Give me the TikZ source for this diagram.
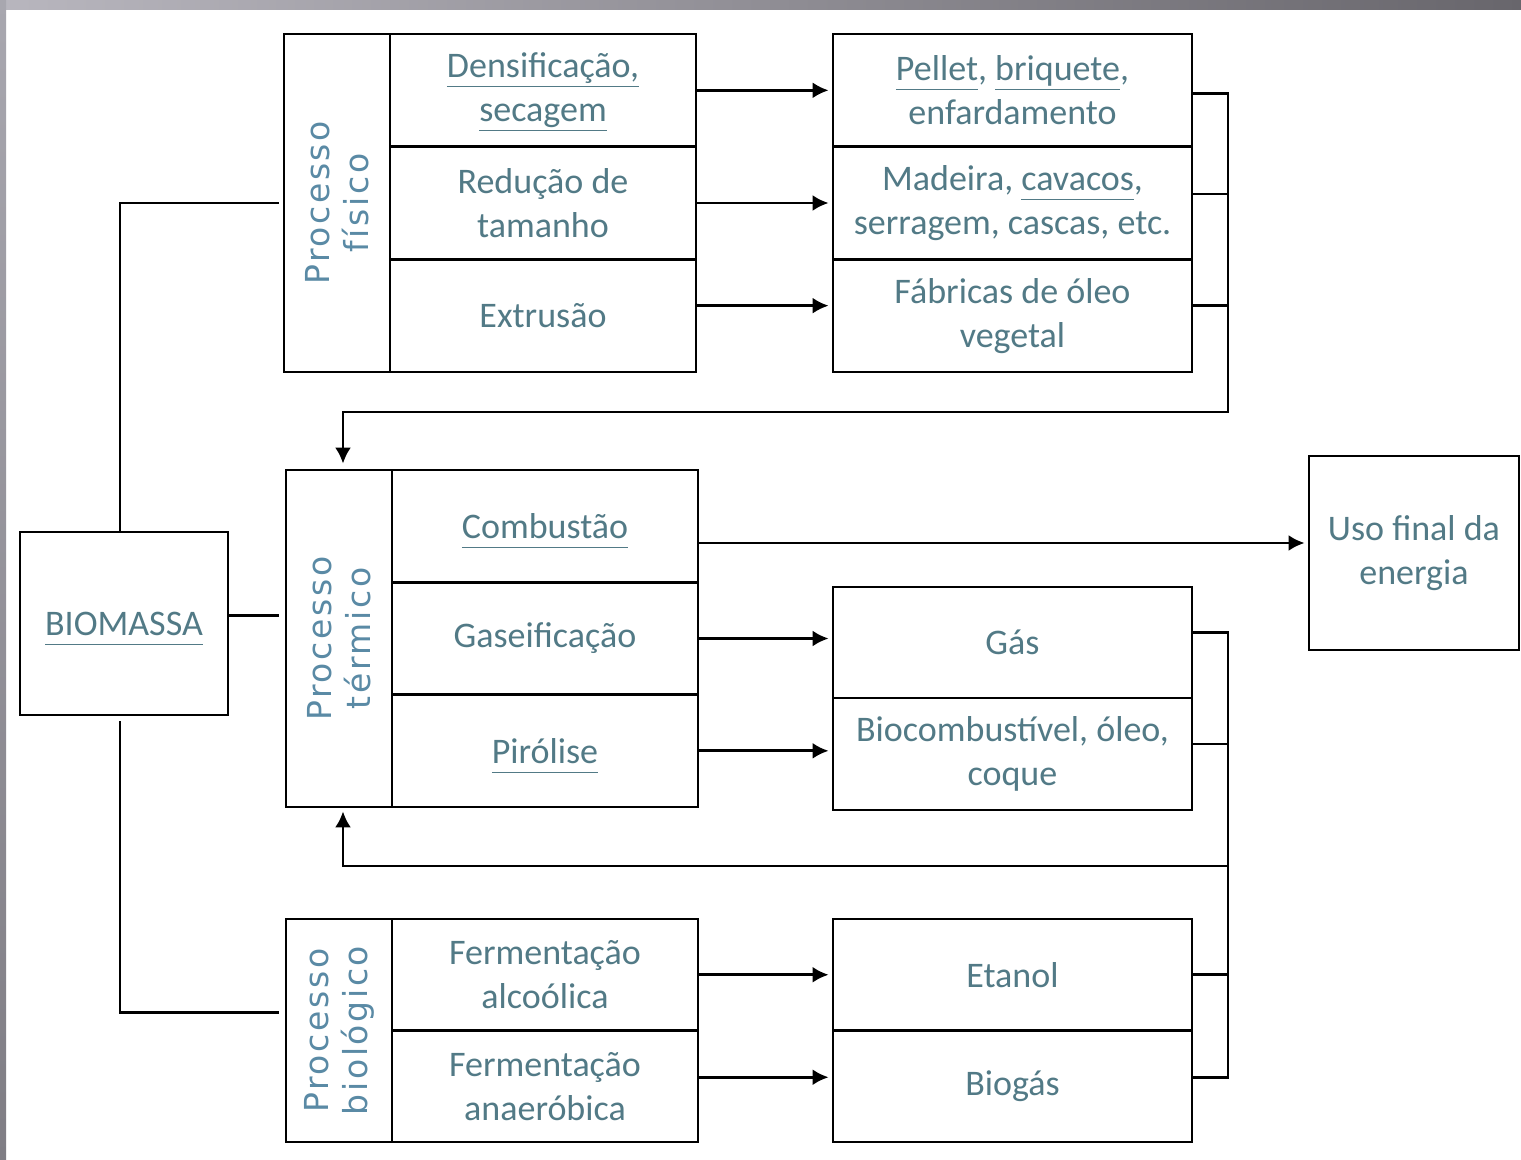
\documentclass[tikz,border=0pt]{standalone}
\usepackage{fontspec}
\setmainfont{Carlito}
\newfontfamily\sidefont[LetterSpace=8]{DejaVu Sans}
\usetikzlibrary{arrows.meta}
\definecolor{txtcol}{RGB}{82,122,134}
\definecolor{sidecol}{RGB}{90,138,165}
\newcommand{\lnk}[1]{\smash{\underline{\smash{#1}\vphantom{g}}}\vphantom{#1}}

\begin{document}
\begin{tikzpicture}[x=0.5pt,y=-0.5pt,
	cellbox/.style={draw,line width=1.4pt,inner sep=0pt,align=center,text=txtcol,font=\fontsize{18}{22}\selectfont},
	rowbox/.style={cellbox,minimum width=153pt},
	prodbox/.style={cellbox,minimum width=179.5pt},
	sidebox/.style={draw,line width=1.4pt,minimum width=53pt},
	sidelbl/.style={rotate=90,align=center,inner sep=0pt,text=sidecol,font=\sidefont\fontsize{16.5}{19.5}\selectfont},
	wire/.style={line width=1.4pt},
	arr/.style={wire,-{Latex[length=8pt,width=8pt]},shorten >=1.5pt}]
			\useasboundingbox (0,0) rectangle (1521,1160);
			\fill[white] (0,0) rectangle (1521,1160);
			\shade[left color={rgb,255:red,184;green,182;blue,190},right color={rgb,255:red,104;green,102;blue,108}] (0,0) rectangle (1521,10);
			\shade[top color={rgb,255:red,168;green,167;blue,175},bottom color={rgb,255:red,127;green,125;blue,132}] (0,0) rectangle (6,1160);

			\node[cellbox,minimum width=104pt,minimum height=91.5pt] (bio) at (124,623.5) {\lnk{BIOMASSA}};
			\node[cellbox,minimum width=105pt,minimum height=97pt] (uso) at (1414,553) {Uso final da\\energia};

			% processo fisico
			\node[sidebox,minimum height=169pt] (fis) at (337,203) {};
			\node[sidelbl] (fislbl) at (fis) {Processo\\físico};
			\node[rowbox,minimum height=56.33pt] (fis1) at (543,90.33) {\lnk{Densificação,}\\\lnk{secagem}};
			\node[rowbox,minimum height=56.33pt] (fis2) at (543,203) {Redução de\\tamanho};
			\node[rowbox,minimum height=56.33pt] (fis3) at (543,315.67) {Extrusão};
			\node[prodbox,minimum height=56.33pt] (pf1) at (1012.5,90.33) {\lnk{Pellet}, \lnk{briquete},\\enfardamento};
			\node[prodbox,minimum height=56.33pt] (pf2) at (1012.5,203) {Madeira, \lnk{cavacos},\\serragem, cascas, etc.};
			\node[prodbox,minimum height=56.33pt] (pf3) at (1012.5,315.67) {Fábricas de óleo\\vegetal};

			% processo termico
			\node[sidebox,minimum height=168.5pt] (ter) at (339,638.5) {};
			\node[sidelbl] (terlbl) at (ter) {Processo\\térmico};
			\node[rowbox,minimum height=56.17pt] (com) at (545,526.17) {\lnk{Combustão}};
			\node[rowbox,minimum height=56.17pt] (gasf) at (545,638.5) {Gaseificação};
			\node[rowbox,minimum height=56.17pt] (pir) at (545,750.83) {\lnk{Pirólise}};
			\node[prodbox,minimum height=55.5pt] (gas) at (1012.5,642.5) {Gás};
			\node[prodbox,minimum height=56pt] (bco) at (1012.5,754) {Biocombustível, óleo,\\coque};

			% processo biologico
			\node[sidebox,minimum height=111.5pt] (bioc) at (339,1030.5) {};
			\node[sidelbl] (bioclbl) at (bioc) {Processo\\biológico};
			\node[rowbox,minimum height=55.75pt] (ferm1) at (545,974.75) {Fermentação\\alcoólica};
			\node[rowbox,minimum height=55.75pt] (ferm2) at (545,1086.25) {Fermentação\\anaeróbica};
			\node[prodbox,minimum height=55.75pt] (eta) at (1012.5,974.75) {Etanol};
			\node[prodbox,minimum height=55.75pt] (biog) at (1012.5,1086.25) {Biogás};

			\coordinate (rbus) at (1228,412);
			\coordinate (tbus) at (1228,866);
			\coordinate (usoin) at ([yshift=5pt]uso.west);

			\draw[wire,shorten >=2pt] ([xshift=-2pt]bio.north) |- (fis.west);
			\draw[wire,shorten >=3pt] ([yshift=4pt]bio.east) -- ([yshift=4pt]bio.east -| ter.west);
			\draw[wire,shorten <=2.5pt,shorten >=3pt] ([xshift=-2pt]bio.south) |- ([yshift=9pt]bioc.west);

			\draw[arr] (fis1.east) -- (pf1.west);
			\draw[arr] (fis2.east) -- (pf2.west);
			\draw[arr] ([yshift=5pt]fis3.east) -- ([yshift=5pt]pf3.west);
			\draw[arr] (com.east |- usoin) -- (usoin);
			\draw[arr] (gasf.east) -- (gasf.east -| gas.west);
			\draw[arr] (pir.east) -- (pir.east -| bco.west);
			\draw[arr] (ferm1.east) -- (eta.west);
			\draw[arr] ([yshift=4.5pt]ferm2.east) -- ([yshift=4.5pt]biog.west);

			% retorno ao processo termico
			\draw[arr,shorten >=2.5pt] ([yshift=-1.5pt]pf1.east) -| (rbus) -| ([xshift=2pt]ter.north);
			\draw[wire] ([yshift=4.5pt]pf2.east) -- ([yshift=4.5pt]pf2.east -| rbus);
			\draw[wire] ([yshift=5pt]pf3.east) -- ([yshift=5pt]pf3.east -| rbus);
			\draw[arr,shorten >=1.5pt] ([yshift=5pt]gas.east) -| (tbus) -| ([xshift=2pt]ter.south);
			\draw[wire] ([yshift=5pt]bco.east) -- ([yshift=5pt]bco.east -| tbus);
			\draw[wire] (eta.east) -- (eta.east -| tbus);
			\draw[wire] ([yshift=4.5pt]biog.east) -| (tbus);
		\end{tikzpicture}
\end{document}
